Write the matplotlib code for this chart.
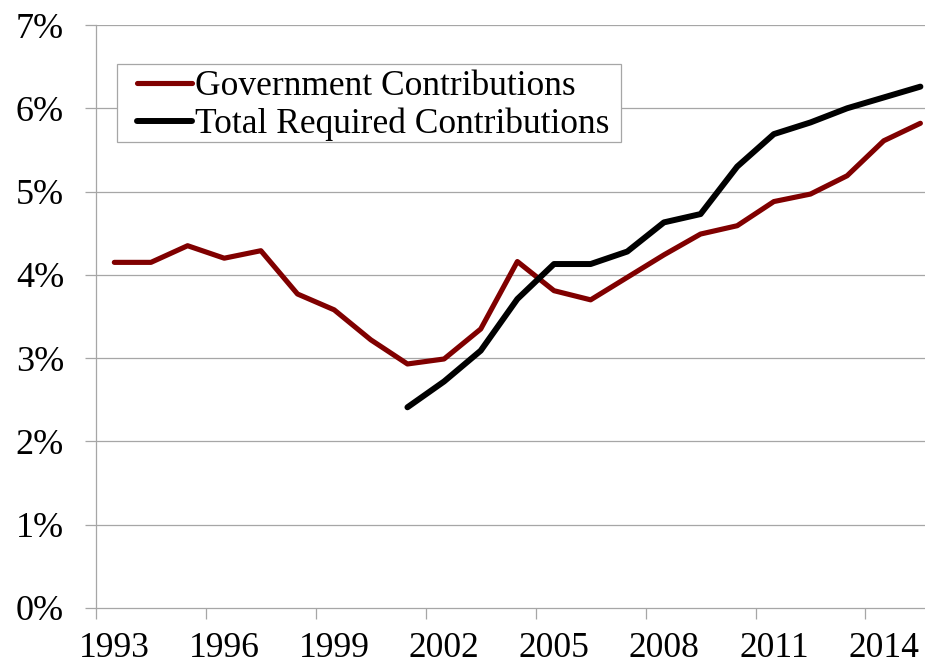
import matplotlib
matplotlib.use("Agg")
import matplotlib.pyplot as plt
from matplotlib.patches import Rectangle
from matplotlib.ticker import FixedLocator, FuncFormatter

years = list(range(1993, 2016))
gov = [4.15, 4.15, 4.35, 4.20, 4.29, 3.77, 3.58, 3.22, 2.93, 2.99, 3.35, 4.16,
       3.81, 3.70, 3.97, 4.24, 4.49, 4.59, 4.88, 4.97, 5.19, 5.61, 5.82]
total_years = list(range(2001, 2016))
total = [2.41, 2.72, 3.09, 3.71, 4.13, 4.13, 4.28, 4.63, 4.73, 5.30, 5.69, 5.83,
         6.00, 6.13, 6.26]
label_years = [1993, 1996, 1999, 2002, 2005, 2008, 2011, 2014]
yticks = [0, 1, 2, 3, 4, 5, 6, 7]

plt.rcParams['font.family'] = ['Liberation Serif', 'DejaVu Serif']

W, H = 925, 666
fig = plt.figure(figsize=(W / 100, H / 100), dpi=100)
left_px, top_px, bottom_px = 96, 25, 608
ax = fig.add_axes([left_px / W, 1 - bottom_px / H, 1 - left_px / W, (bottom_px - top_px) / H])

cat_px = 36.64
idx = {y: i for i, y in enumerate(years)}
gx = [idx[y] for y in years]
tx = [idx[y] for y in total_years]

grid_c = '#A6A6A6'
for v in yticks[1:]:
    ax.axhline(v, color=grid_c, lw=0.9, zorder=1)

ax.plot(gx, gov, color='#800000', lw=3.7, solid_joinstyle='round', solid_capstyle='round',
        label='Government Contributions', zorder=3)
ax.plot(tx, total, color='black', lw=4.3, solid_joinstyle='round', solid_capstyle='round',
        label='Total Required Contributions', zorder=3)

ax.set_xlim(-0.5, -0.5 + (W - left_px) / cat_px)
ax.set_ylim(0, 7)

for s in ['top', 'right']:
    ax.spines[s].set_visible(False)
for s in ['left', 'bottom']:
    ax.spines[s].set_color(grid_c)
    ax.spines[s].set_linewidth(0.9)

ax.set_yticks(yticks)
ax.yaxis.set_major_formatter(FuncFormatter(lambda v, p: f"{int(v)}%"))
ax.tick_params(axis='y', length=8, width=0.9, color=grid_c, pad=15, labelsize=26)

ax.set_xticks([idx[y] for y in label_years])
ax.set_xticklabels([str(y) for y in label_years])
ax.xaxis.set_minor_locator(FixedLocator([i - 0.5 for i in range(0, 23, 3)]))
ax.tick_params(axis='x', which='major', length=0, pad=17, labelsize=25.5)
ax.tick_params(axis='x', which='minor', length=8, width=0.9, color=grid_c)

# legend frame drawn as a plain rectangle, contents without frame
ax.add_patch(Rectangle((0.0253, 0.7998), 0.608, 0.1328, transform=ax.transAxes,
                       facecolor='white', edgecolor=grid_c, lw=0.9, zorder=4))
leg = ax.legend(loc='upper left', bbox_to_anchor=(0.049, 0.9228), fontsize=25.5,
                frameon=False, handlelength=1.55, handletextpad=0.1,
                labelspacing=0.14, borderpad=0, borderaxespad=0)
leg.set_zorder(5)
for h in leg.get_lines():
    h.set_solid_capstyle('round')

fig.savefig('out.png', dpi=100)
